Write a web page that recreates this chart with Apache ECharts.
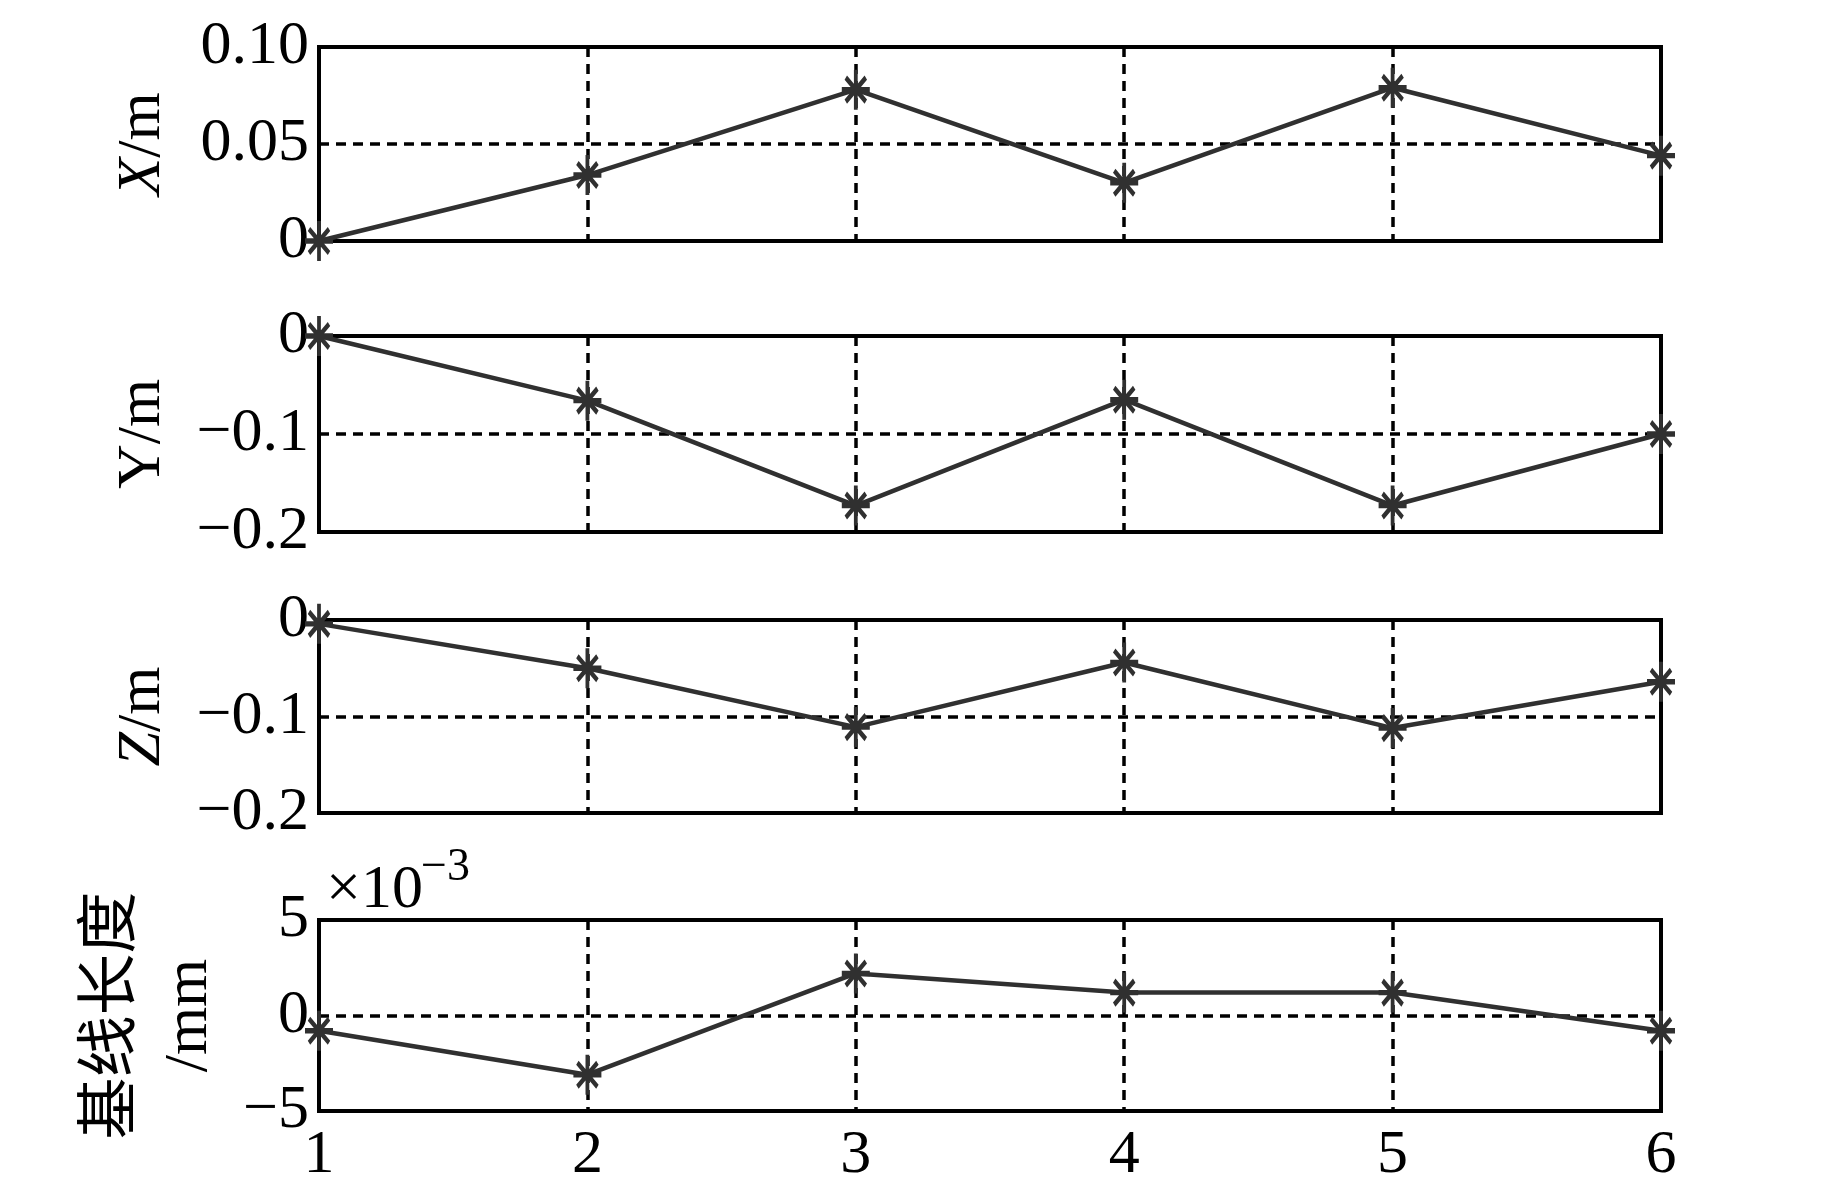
<!DOCTYPE html>
<html>
<head>
<meta charset="utf-8">
<script src="https://cdn.jsdelivr.net/npm/echarts@6/dist/echarts.min.js"></script>
<style>
  html, body { margin: 0; padding: 0; background: #fff; }
  #chart { width: 1843px; height: 1187px; }
</style>
</head>
<body>
<div id="chart"></div>
<script>
// 测站编号
const stations = [1, 2, 3, 4, 5, 6];
// 各分量 (m)
const xValues = [0, 0.034, 0.078, 0.030, 0.079, 0.044];
const yValues = [0, -0.066, -0.173, -0.065, -0.173, -0.100];
const zValues = [-0.004, -0.050, -0.111, -0.044, -0.112, -0.064];
// 基线长度 (×10^-3 mm)
const baseValues = [-0.8, -3.1, 2.2, 1.2, 1.2, -0.8];

// 刻度标签
const xTickLabels = ['1', '2', '3', '4', '5', '6'];
const xmLabels = ['0', '0.05', '0.10'];
const ymLabels = ['\u22120.2', '\u22120.1', '0'];
const zmLabels = ['\u22120.2', '\u22120.1', '0'];
const baseLabels = ['\u22125', '0', '5'];

const FONT = '"Liberation Serif", "Noto Sans CJK SC", serif';
const INK = '#303030';

const chart = echarts.init(document.getElementById('chart'));

const grids = [
  {top: 47, height: 194},
  {top: 336, height: 196},
  {top: 620, height: 193},
  {top: 920, height: 193}
].map(g => ({
  left: 319, width: 1342, top: g.top, height: g.height,
  show: true, borderColor: '#000', borderWidth: 4, backgroundColor: 'transparent'
}));

const dashed = {show: true, lineStyle: {color: '#000', width: 3.5, type: [10, 7]}};

const xAxes = grids.map((g, i) => ({
  type: 'value', gridIndex: i, min: 1, max: 6, interval: 1,
  axisLine: {show: false}, axisTick: {show: false},
  splitLine: dashed,
  axisLabel: {
    show: i === 3, margin: 14, color: '#000', fontFamily: FONT, fontSize: 62,
    formatter: (v, idx) => xTickLabels[idx]
  }
}));

const yDefs = [
  {min: 0, max: 0.1, interval: 0.05, labels: xmLabels, name: '{i|X}/m', gap: 138},
  {min: -0.2, max: 0, interval: 0.1, labels: ymLabels, name: 'Y/m', gap: 138},
  {min: -0.2, max: 0, interval: 0.1, labels: zmLabels, name: '{i|Z}/m', gap: 138},
  {min: -5, max: 5, interval: 5, labels: baseLabels, name: '基线长度\n/mm', gap: 91}
];

const yAxes = yDefs.map((d, i) => ({
  type: 'value', gridIndex: i, min: d.min, max: d.max, interval: d.interval,
  axisLine: {show: false}, axisTick: {show: false},
  splitLine: dashed,
  axisLabel: {
    margin: 10, color: '#000', fontFamily: FONT, fontSize: 62,
    formatter: (v, idx) => d.labels[idx]
  },
  name: d.name, nameLocation: 'middle', nameRotate: 90, nameGap: d.gap,
  nameTextStyle: {
    color: '#000', fontFamily: FONT, fontSize: 62, lineHeight: 76,
    rich: {i: {fontStyle: 'italic', fontFamily: FONT, fontSize: 62, color: '#000'}}
  }
}));

const star = 'path://M14,0L14,40M0,20L28,20M4,8L24,32M4,32L24,8';

const seriesData = [xValues, yValues, zValues, baseValues];
const series = seriesData.map((vals, i) => ({
  type: 'line', xAxisIndex: i, yAxisIndex: i,
  data: stations.map((s, k) => [s, vals[k]]),
  clip: false,
  symbol: star, symbolSize: [28, 40],
  lineStyle: {color: INK, width: 4.5},
  itemStyle: {color: INK, borderColor: INK, borderWidth: 4.5}
}));

chart.setOption({
  animation: false,
  backgroundColor: '#fff',
  grid: grids,
  xAxis: xAxes,
  yAxis: yAxes,
  series: series,
  graphic: [
    {type: 'text', left: 326, top: 860, style: {text: '×10', fill: '#000', font: '62px ' + FONT}},
    {type: 'text', left: 421, top: 845, style: {text: '\u22123', fill: '#000', font: '46px ' + FONT}}
  ]
});
</script>
</body>
</html>
